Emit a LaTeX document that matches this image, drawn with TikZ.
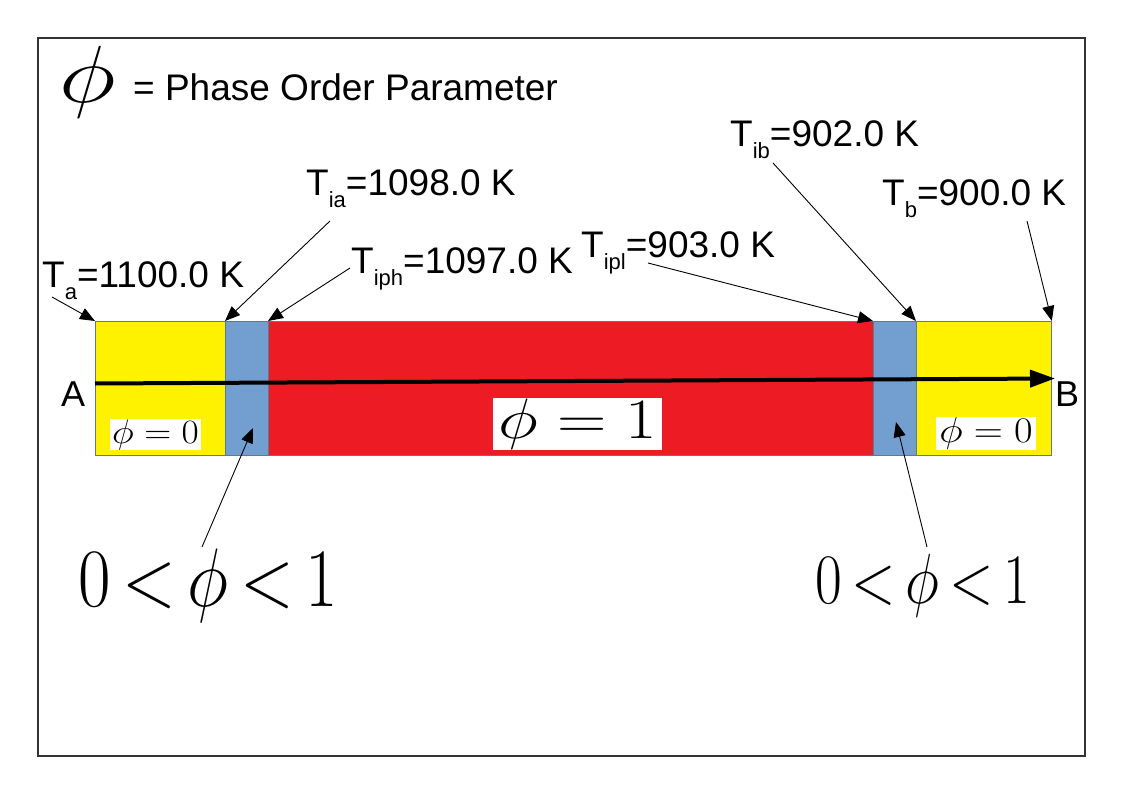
\RequirePackage{fix-cm}
\documentclass[tikz,border=0pt]{standalone}
\usepackage[no-math]{fontspec}
\newfontfamily\arial{Liberation Sans}
\usepackage{graphicx}
\usetikzlibrary{arrows.meta}
\definecolor{yel}{HTML}{FFF200}
\definecolor{blu}{HTML}{729FCF}
\definecolor{redd}{HTML}{ED1C24}
\definecolor{edge}{HTML}{5A7A94}
\definecolor{frame}{HTML}{333333}
\newcommand\mysub[1]{\raisebox{-12pt}{\fontsize{22}{22}\selectfont #1}}
\tikzset{
  lbl/.style={font=\arial\fontsize{37}{40}\selectfont, inner sep=0pt, anchor=base west},
  ptr/.style={draw=black, line width=0.9pt, -{Triangle[length=15pt,width=12pt]}},
  seg/.style={draw=edge, line width=0.8pt, inner sep=0pt, anchor=north west, minimum height=134pt},
  wbox/.style={fill=white, inner sep=0pt},
  mth/.style={inner sep=0pt, anchor=base west},
}
\begin{document}
\begin{tikzpicture}[x=1pt,y=-1pt]
\useasboundingbox (0,0) rectangle (1123,794);
\fill[white] (0,0) rectangle (1123,794);
\draw[frame, line width=1.2pt] (38,38) rectangle (1085,756);

% title
\node[mth] (phit) at (59,103) {\scalebox{1.2}[1]{\fontsize{81}{81}\selectfont$\phi$}};
\node[lbl] (title) at (133,101) {= Phase Order Parameter};

% bar
\node[seg, fill=yel, minimum width=130pt] (ya) at (95,321) {};
\node[seg, fill=blu, minimum width=43pt] (ba) at (225,321) {};
\node[seg, fill=redd, minimum width=605pt] (rd) at (268,321) {};
\node[seg, fill=blu, minimum width=43pt] (bb) at (873,321) {};
\node[seg, fill=yel, minimum width=135pt] (yb) at (916,321) {};

% phase boxes
\node[wbox, minimum width=91pt, minimum height=31pt] (p0a) at (155.5,434.5)
  {\scalebox{1.1}[1]{\fontsize{34}{34}\selectfont$\phi=0$}};
\node[wbox, minimum width=100pt, minimum height=33pt] (p0b) at (986,433.5)
  {\scalebox{1.12}[1]{\fontsize{36}{36}\selectfont$\phi=0$}};
\node[wbox, minimum width=169pt, minimum height=52pt] (p1) at (577.5,424)
  {\scalebox{1.2}[1]{\fontsize{57}{57}\selectfont$\phi=1$}};

% A-B line
\coordinate (ax) at (95,383.5);
\coordinate (bx) at (1055,378.5);
\draw[line width=4pt, -{Triangle[length=25pt,width=17pt]}] (ax) -- (bx);
\node[lbl, font=\arial\fontsize{36}{40}\selectfont] (A) at (61,406.5) {A};
\node[lbl, font=\arial\fontsize{36}{40}\selectfont] (B) at (1055,406) {B};

% temperature labels
\node[lbl] (Ta) at (42,287) {T\mysub{a}=1100.0 K};
\node[lbl] (Tia) at (306,196) {T\mysub{ia}=1098.0 K};
\node[lbl] (Tiph) at (351,273) {T\mysub{iph}=1097.0 K};
\node[lbl] (Tipl) at (581,258) {T\mysub{ipl}=903.0 K};
\node[lbl] (Tib) at (730,147) {T\mysub{ib}=902.0 K};
\node[lbl] (Tb) at (882,206) {T\mysub{b}=900.0 K};

\coordinate (sTa) at (52,297);
\coordinate (sTia) at (330,221);
\coordinate (sTiph) at (350,268);
\coordinate (sTipl) at (648,263);
\coordinate (sTib) at (773,163);
\coordinate (sTb) at (1027,221);
\draw[ptr] (sTa) -- (ya.north west);
\draw[ptr] (sTia) -- (ba.north west);
\draw[ptr] (sTiph) -- (rd.north west);
\draw[ptr] (sTipl) -- (bb.north west);
\draw[ptr] (sTib) -- (yb.north west);
\draw[ptr] (sTb) -- (yb.north east);

% interface labels
\node[mth] (ia) at (78,606) {\scalebox{0.85}[1]{\fontsize{83}{83}\selectfont\thickmuskip=3mu$0<\phi<1$}};
\node[mth] (ib) at (815,603) {\scalebox{0.82}[1]{\fontsize{71}{71}\selectfont\thickmuskip=3mu$0<\phi<1$}};
\coordinate (sPa) at (202,547);
\coordinate (tPa) at (253,428);
\coordinate (sPb) at (927,547);
\coordinate (tPb) at (896,422);
\draw[ptr] (sPa) -- (tPa);
\draw[ptr] (sPb) -- (tPb);
\end{tikzpicture}
\end{document}
